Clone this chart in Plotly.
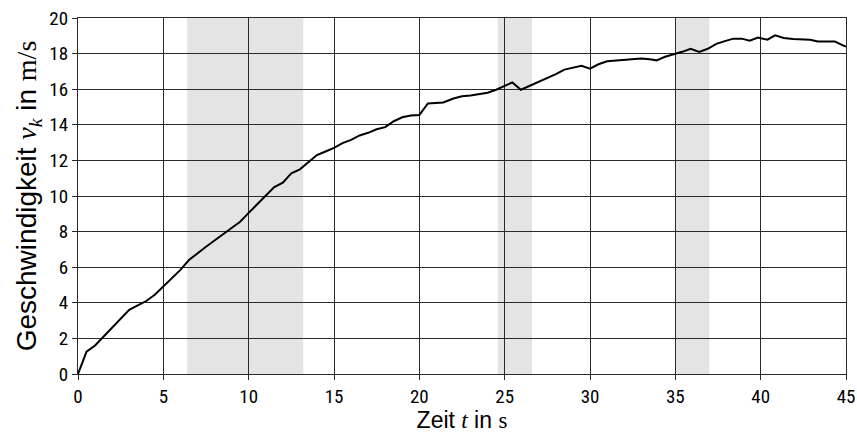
import plotly.graph_objects as go

# Measured speed profile: time in s, speed in m/s
zeit = [0, 0.5, 1.0, 1.5, 2.0, 2.5, 3.0, 3.5, 4.0, 4.5, 5.0, 5.5, 6.0, 6.5, 7.0,
        7.5, 8.0, 8.5, 9.0, 9.5, 10.0, 10.5, 11.0, 11.5, 12.0, 12.5, 13.0, 13.5,
        14.0, 14.5, 15.0, 15.5, 16.0, 16.5, 17.0, 17.5, 18.0, 18.5, 19.0, 19.5,
        20.0, 20.5, 21.0, 21.4, 22.0, 22.5, 23.0, 23.5, 24.0, 24.5, 25.0, 25.45,
        25.95, 26.5, 27.0, 27.5, 28.0, 28.5, 29.0, 29.5, 30.0, 30.5, 31.0, 31.5,
        32.0, 32.5, 33.0, 33.5, 33.9, 34.4, 34.9, 35.4, 35.9, 36.4, 36.9, 37.4,
        37.9, 38.4, 38.9, 39.35, 39.85, 40.4, 40.85, 41.35, 41.9, 42.4, 42.9,
        43.35, 43.85, 44.35, 44.85, 45.0]
geschw = [0, 1.25, 1.6, 2.1, 2.65, 3.15, 3.6, 3.85, 4.1, 4.45, 4.9, 5.35, 5.85,
          6.4, 6.8, 7.15, 7.5, 7.85, 8.15, 8.55, 9.05, 9.55, 10.05, 10.5, 10.75,
          11.28, 11.5, 11.9, 12.3, 12.5, 12.7, 12.97, 13.15, 13.4, 13.55, 13.75,
          13.87, 14.2, 14.42, 14.52, 14.55, 15.2, 15.25, 15.25, 15.48, 15.6,
          15.65, 15.73, 15.8, 15.97, 16.2, 16.38, 15.97, 16.2, 16.42, 16.6,
          16.85, 17.1, 17.22, 17.32, 17.15, 17.4, 17.57, 17.62, 17.65, 17.7,
          17.73, 17.68, 17.62, 17.82, 17.94, 18.1, 18.27, 18.09, 18.27, 18.55,
          18.7, 18.84, 18.84, 18.73, 18.9, 18.78, 19.03, 18.88, 18.82, 18.79,
          18.78, 18.68, 18.68, 18.68, 18.45, 18.4]

# Highlighted time intervals (start, end) in s
bereich_start = [6.4, 24.6, 35.0]
bereich_ende = [13.2, 26.6, 37.0]

x_ticks = list(range(0, 46, 5))
y_ticks = list(range(0, 21, 2))

TICKFONT = "Roboto Condensed, Liberation Sans, Arial, sans-serif"
SANS = "Liberation Sans, Arial, sans-serif"
SERIF = "Liberation Serif"

fig = go.Figure()

for a, b in zip(bereich_start, bereich_ende):
    fig.add_vrect(x0=a, x1=b, fillcolor="#e4e4e4", line_width=0, layer="below")

fig.add_trace(go.Scatter(
    x=zeit, y=geschw, mode="lines",
    line=dict(color="black", width=2),
    showlegend=False, hoverinfo="x+y",
))

axis_common = dict(
    showgrid=True, gridcolor="#2a2a2a", gridwidth=1.3,
    showline=True, linecolor="#2a2a2a", linewidth=1.3, mirror=True,
    ticks="outside", ticklen=5, tickwidth=1.2, tickcolor="#2a2a2a",
    zeroline=False, automargin=False,
    tickfont=dict(family=TICKFONT, size=19, color="black"),
)

fig.update_xaxes(
    range=[0, 45], tickvals=x_ticks, ticktext=[str(v) for v in x_ticks],
    title=dict(
        text=f'Zeit <span style="font-family:{SERIF};font-style:italic">t</span> in '
             f'<span style="font-family:{SERIF}">s</span>',
        font=dict(family=SANS, size=23, color="black"), standoff=2),
    **axis_common,
)
fig.update_yaxes(
    range=[0, 20], tickvals=y_ticks, ticktext=[str(v) for v in y_ticks],
    title=dict(
        text=f'Geschwindigkeit <span style="font-family:{SERIF};font-style:italic">v</span>'
             f'<sub><span style="font-family:{SERIF};font-style:italic">k</span></sub> in '
             f'<span style="font-family:{SERIF}">m/s</span>',
        font=dict(family=SANS, size=28, color="black"), standoff=4),
    **axis_common,
)

fig.update_layout(
    width=857, height=433,
    margin=dict(l=78, r=11, t=18, b=59),
    plot_bgcolor="white", paper_bgcolor="white",
)

fig.write_html("out.html")
